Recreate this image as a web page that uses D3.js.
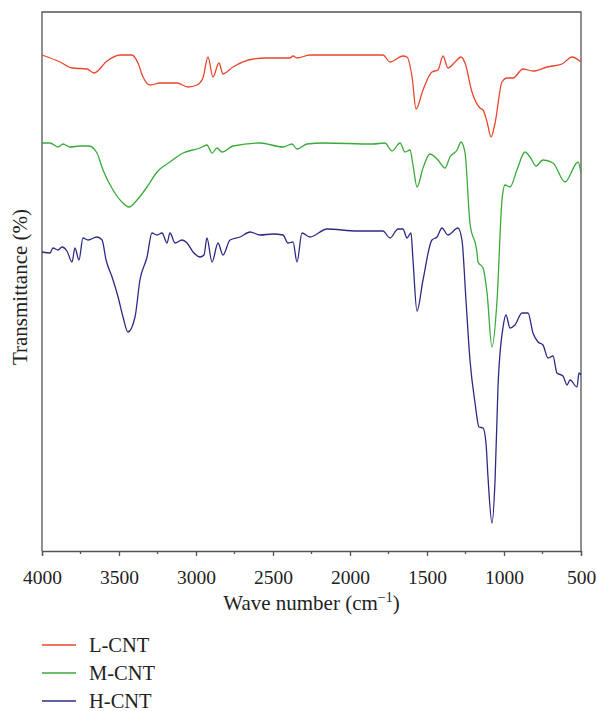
<!DOCTYPE html>
<html><head><meta charset="utf-8">
<script src="https://cdn.jsdelivr.net/npm/d3@7"></script>
<style>body{margin:0;background:#fff}text{font-family:"Liberation Serif","Times New Roman",serif;fill:#222}</style>
</head><body><svg id="c" width="597" height="711"></svg>
<script>
const seriesNames = ["L-CNT","M-CNT","H-CNT"];
const seriesColors = ["#e8462e","#3aaa3a","#2e2a84"];
const xTicks = [4000,3500,3000,2500,2000,1500,1000,500];
// wavenumber (cm-1)
const lWave = [4000,3883,3805,3708,3662,3578,3494,3416,3377,3344,3299,3234,3123,3052,2994,2955,2922,2890,2851,2825,2760,2630,2539,2390,2370,2344,2260,1786,1740,1656,1630,1597,1571,1526,1468,1429,1396,1364,1318,1279,1253,1208,1156,1136,1110,1084,1058,1013,980,942,877,812,721,623,558,500];
const lT = [496,489,483,482,478,490,496,496,488,474,466,468,468,464,466,473,494,474,488,477,484,492,493,493,495,493,496,496,489,495,494,474,442,461,479,481,495,483,489,494,488,459,443,441,429,414,428,469,473,473,482,480,484,487,494,489];
const mWave = [4000,3948,3896,3864,3818,3753,3695,3643,3604,3539,3481,3435,3383,3318,3253,3169,3084,2974,2929,2896,2864,2831,2760,2584,2435,2377,2344,2279,2175,1851,1773,1727,1675,1643,1610,1591,1565,1526,1481,1429,1383,1351,1305,1279,1253,1221,1175,1169,1136,1110,1078,1045,1013,994,961,916,864,831,792,747,682,604,519,500];
const mT = [408,408,404,407,404,405,405,398,381,361,349,344,351,364,379,389,398,403,406,398,403,399,405,408,404,407,402,407,408,407,408,400,408,399,401,386,364,383,397,391,383,394,401,409,398,328,298,289,283,258,204,251,351,366,364,381,399,394,385,391,388,369,389,378];
const hWave = [4000,3948,3929,3896,3870,3838,3805,3786,3760,3734,3701,3643,3610,3584,3545,3506,3474,3442,3396,3364,3318,3286,3253,3221,3188,3169,3136,3091,3058,3019,2974,2948,2929,2896,2857,2825,2779,2714,2649,2584,2500,2435,2403,2370,2344,2312,2260,2149,1955,1786,1740,1688,1656,1630,1604,1591,1565,1526,1468,1435,1403,1364,1299,1273,1247,1221,1188,1162,1136,1117,1104,1078,1058,1039,1006,987,961,929,883,844,812,779,747,714,682,656,617,591,571,526,513,500];
const hT = [299,298,303,301,304,300,289,303,291,313,311,314,311,291,274,254,234,219,234,271,294,318,316,318,308,318,308,311,308,299,294,296,313,289,308,296,311,314,319,316,317,316,308,309,289,318,314,322,320,320,313,322,322,313,318,291,240,271,311,314,323,316,323,311,251,191,148,124,123,108,74,28,71,164,224,236,223,226,238,238,218,209,206,193,195,178,175,166,171,164,178,176];

const svg = d3.select("#c");
const L=42,R=581,T=12,B=551;
const x = d3.scaleLinear().domain([4000,500]).range([L,R]);
const y = d3.scaleLinear().domain([0,539]).range([B,T]);
const axisCol="#555";
// frame
svg.append("path").attr("d",`M${L},${B}V${T}H${R}V${B}`).attr("fill","none").attr("stroke",axisCol).attr("stroke-width",1.3);
const gx = svg.append("g").attr("transform",`translate(0,${B})`)
  .call(d3.axisBottom(x).tickValues(xTicks).tickSize(5).tickPadding(14).tickFormat(d3.format("d")));
gx.select(".domain").attr("stroke",axisCol).attr("stroke-width",1.3);
gx.selectAll(".tick line").attr("stroke",axisCol).attr("stroke-width",1.3);
gx.selectAll("text").style("font-size","19.5px").attr("fill","#222").style("font-family",'"Liberation Serif",serif');
const minor = d3.range(3750,500,-500);
svg.append("g").selectAll("line").data(minor).join("line")
  .attr("x1",d=>x(d)).attr("x2",d=>x(d)).attr("y1",B).attr("y2",B+3)
  .attr("stroke",axisCol).attr("stroke-width",1.3);
// titles
const xt = svg.append("text").attr("x",(L+R)/2).attr("y",610).attr("text-anchor","middle").style("font-size","21px");
xt.append("tspan").text("Wave number (cm");
xt.append("tspan").text("−1").attr("dy",-8).style("font-size","14px");
xt.append("tspan").text(")").attr("dy",8);
svg.append("text").attr("transform",`translate(27,287) rotate(-90)`).attr("text-anchor","middle").style("font-size","21px").text("Transmittance (%)");
// lines
const data = [[lWave,lT],[mWave,mT],[hWave,hT]];
const line = d3.line().x(d=>x(d[0])).y(d=>y(d[1])).curve(d3.curveMonotoneX);
data.forEach((s,i)=>{
  const pts = s[0].map((w,j)=>[w,s[1][j]]);
  svg.append("path").datum(pts).attr("d",line).attr("fill","none").attr("stroke",seriesColors[i]).attr("stroke-width",1.3);
});
// legend
seriesNames.forEach((n,i)=>{
  const yy = 645 + i*28;
  svg.append("line").attr("x1",42).attr("x2",76).attr("y1",yy).attr("y2",yy).attr("stroke",seriesColors[i]).attr("stroke-width",1.5);
  svg.append("text").attr("x",89).attr("y",yy+6.5).style("font-size","20.5px").text(n);
});
</script></body></html>
